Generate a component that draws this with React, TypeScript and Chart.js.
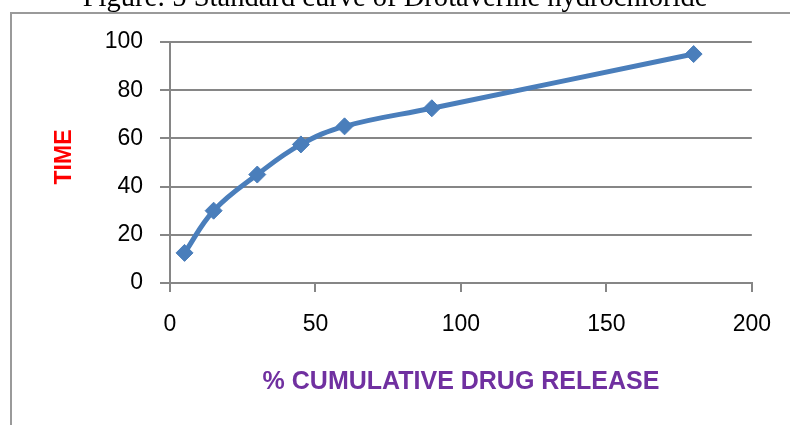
import React, { useEffect, useRef } from "react";
import { Chart, registerables } from "chart.js";

Chart.register(...registerables);

const figureTitle = "Figure: 5 Standard curve of Drotaverine hydrochloride";
const xAxisTitle = "% CUMULATIVE DRUG RELEASE";
const yAxisTitle = "TIME";
const releaseValues = [5, 15, 30, 45, 60, 90, 180];
const timeValues = [12.5, 30, 45, 57.5, 65, 72.5, 95];
const xTickMin = 0;
const xTickMax = 200;
const xTickStep = 50;
const yTickMin = 0;
const yTickMax = 100;
const yTickStep = 20;

const W = 790;
const H = 425;
const GRID = "#868686";

const decorPlugin = {
  id: "decor",
  beforeDraw(chart: any) {
    const ctx = chart.ctx;
    ctx.save();
    ctx.fillStyle = "#ffffff";
    ctx.fillRect(0, 0, W, H);
    // frame
    ctx.strokeStyle = "#9a9a9a";
    ctx.lineWidth = 2;
    ctx.beginPath();
    ctx.moveTo(11, H);
    ctx.lineTo(11, 13);
    ctx.lineTo(W, 13);
    ctx.stroke();
    // cropped figure caption
    ctx.fillStyle = "#000000";
    ctx.textAlign = "center";
    ctx.textBaseline = "alphabetic";
    ctx.font = "24px 'Liberation Serif', serif";
    const m = ctx.measureText(figureTitle).width;
    const size = (24 * 625) / m;
    ctx.font = `${size.toFixed(2)}px 'Liberation Serif', serif`;
    ctx.fillText(figureTitle, 395, 6);
    ctx.restore();
  },
  afterDraw(chart: any) {
    const ctx = chart.ctx;
    ctx.save();
    // x axis title
    ctx.fillStyle = "#7030A0";
    ctx.font = "bold 25px 'Liberation Sans', Arial, sans-serif";
    ctx.textAlign = "center";
    ctx.textBaseline = "middle";
    ctx.fillText(xAxisTitle, 461, 382);
    // y axis title
    ctx.translate(64, 157);
    ctx.rotate(-Math.PI / 2);
    ctx.fillStyle = "#FF0000";
    ctx.font = "bold 23px 'Liberation Sans', Arial, sans-serif";
    ctx.fillText(yAxisTitle, 0, 1);
    ctx.restore();
  },
};

export default function App() {
  const ref = useRef<HTMLCanvasElement | null>(null);

  useEffect(() => {
    if (!ref.current) return;
    const points = releaseValues.map((x, i) => ({ x, y: timeValues[i] }));
    const chart = new Chart(ref.current, {
      type: "scatter",
      data: {
        datasets: [
          {
            data: points,
            showLine: true,
            borderColor: "#4A7EBB",
            backgroundColor: "#4A7EBB",
            borderWidth: 5,
            tension: 0.4,
            pointStyle: "rectRot",
            pointRadius: 8.5,
            pointBorderWidth: 1,
            pointBackgroundColor: "#4A7EBB",
            pointBorderColor: "#4A7EBB",
          },
        ],
      },
      options: {
        responsive: false,
        animation: false,
        layout: { padding: { left: 0, top: 42, right: 38, bottom: 0 } },
        plugins: {
          legend: { display: false },
          tooltip: { enabled: false },
          title: { display: false },
        },
        scales: {
          x: {
            type: "linear",
            min: xTickMin,
            max: xTickMax,
            afterFit: (s: any) => {
              s.height = H - 283;
            },
            ticks: {
              stepSize: xTickStep,
              color: "#000000",
              padding: 19,
              maxRotation: 0,
              font: { family: "'Liberation Sans', Arial, sans-serif", size: 23 },
            },
            grid: {
              drawOnChartArea: false,
              drawTicks: true,
              tickLength: 9,
              color: GRID,
              lineWidth: 2,
            },
            border: { display: true, color: GRID, width: 2 },
          },
          y: {
            type: "linear",
            min: yTickMin,
            max: yTickMax,
            afterFit: (s: any) => {
              s.width = 170;
            },
            ticks: {
              stepSize: yTickStep,
              color: "#000000",
              padding: 17,
              font: { family: "'Liberation Sans', Arial, sans-serif", size: 23 },
            },
            grid: {
              drawOnChartArea: true,
              drawTicks: true,
              tickLength: 10,
              color: GRID,
              lineWidth: 2,
            },
            border: { display: true, color: GRID, width: 2 },
          },
        },
      },
      plugins: [decorPlugin],
    });
    return () => chart.destroy();
  }, []);

  return (
    <div style={{ position: "fixed", left: 0, top: 0, width: W, height: H, background: "#fff" }}>
      <canvas ref={ref} width={W} height={H} style={{ display: "block", width: W, height: H }} />
    </div>
  );
}
